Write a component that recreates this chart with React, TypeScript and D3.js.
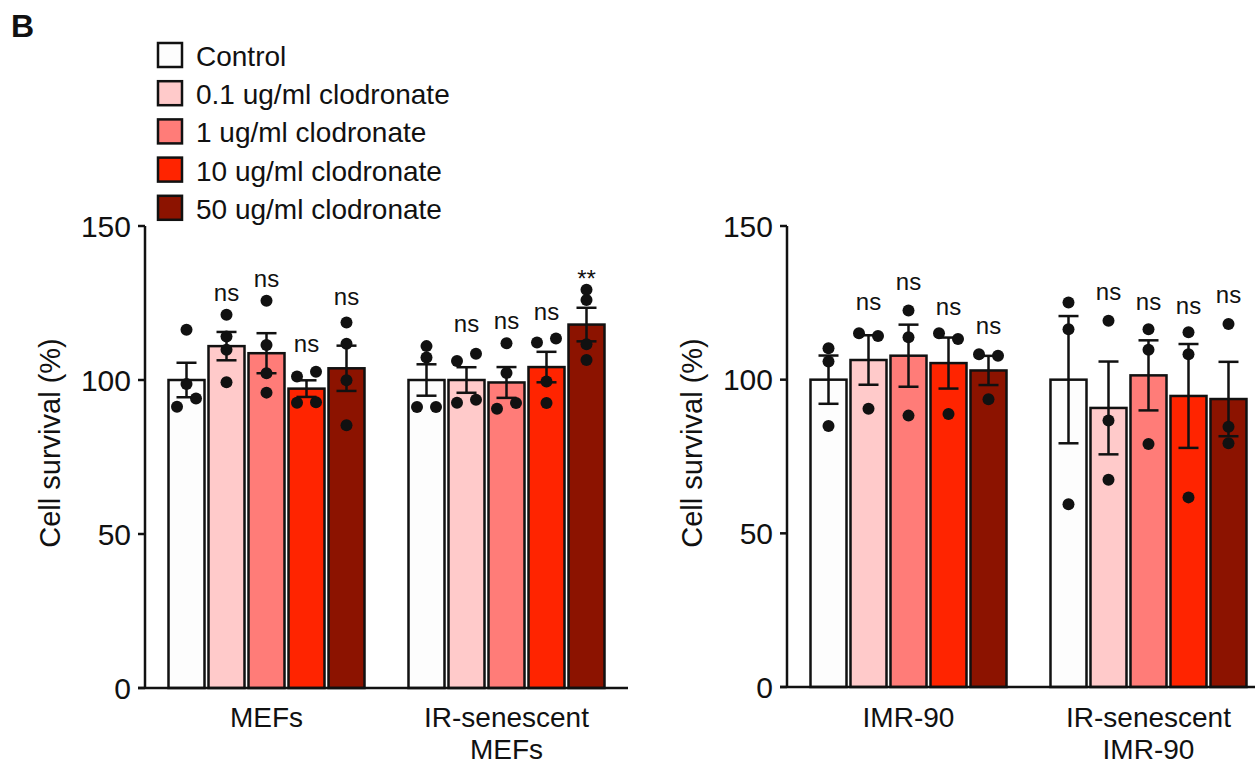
import React from "react";
import * as d3 from "d3";

// treatments (legend order) and bar fills
const treatments = [
  "Control",
  "0.1 ug/ml clodronate",
  "1 ug/ml clodronate",
  "10 ug/ml clodronate",
  "50 ug/ml clodronate",
];
const fills = ["#fdfdfd", "#ffcaca", "#ff7c78", "#ff2400", "#8c1300"];

const yTicks = [0, 50, 100, 150];

// left panel
const leftGroups = ["MEFs", "IR-senescent\nMEFs"];

const mefsMean = [100, 111, 108.7, 97.2, 103.8];
const mefsSem = [5.6, 4.6, 6.5, 2.7, 7.35];
const mefsPoints = [
  [116.3, 98.7, 91.3, 94.0],
  [121.2, 114.1, 109.8, 99.3],
  [125.7, 111.4, 102.2, 95.9],
  [101.1, 102.7, 92.6, 92.8],
  [118.7, 111.8, 99.9, 85.3],
];
const mefsSig = ["", "ns", "ns", "ns", "ns"];
const mefsSigAt = [0, 127.9, 132.2, 111.1, 126.6];

const irMefsMean = [100, 100, 99.2, 104.2, 118];
const irMefsSem = [5.1, 4.15, 5.0, 4.95, 5.45];
const irMefsPoints = [
  [111.0, 107.3, 91.2, 91.2],
  [106.2, 108.5, 92.6, 93.6],
  [111.9, 102.3, 90.7, 92.5],
  [112.2, 113.5, 99.5, 92.5],
  [129.3, 126.0, 111.6, 106.5],
];
const irMefsSig = ["", "ns", "ns", "ns", "**"];
const irMefsSigAt = [0, 117.8, 118.7, 121.6, 134.4];

// right panel
const rightGroups = ["IMR-90", "IR-senescent\nIMR-90"];

const imrMean = [100, 106.4, 107.8, 105.4, 103];
const imrSem = [7.85, 8.05, 10.1, 8.3, 4.75];
const imrPoints = [
  [110.2, 105.9, 84.9],
  [115.1, 114.2, 90.5],
  [122.5, 113.8, 88.3],
  [115.1, 113.2, 88.8],
  [108.3, 107.8, 93.6],
];
const imrSig = ["", "ns", "ns", "ns", "ns"];
const imrSigAt = [0, 124.9, 131.4, 123.3, 117.1];

const irImrMean = [100, 90.8, 101.4, 94.7, 93.7];
const irImrSem = [20.7, 15.1, 11.4, 16.9, 12.1];
const irImrPoints = [
  [125.1, 116.4, 59.5],
  [119.2, 86.7, 67.4],
  [116.4, 109.7, 79.1],
  [115.4, 108.3, 61.7],
  [118.1, 84.7, 79.3],
];
const irImrSig = ["", "ns", "ns", "ns", "ns"];
const irImrSigAt = [0, 127.9, 124.9, 123.4, 127.2];

type Series = {
  mean: number[];
  sem: number[];
  points: number[][];
  sig: string[];
  sigAt: number[];
};

const leftSeries: Series[] = [
  { mean: mefsMean, sem: mefsSem, points: mefsPoints, sig: mefsSig, sigAt: mefsSigAt },
  { mean: irMefsMean, sem: irMefsSem, points: irMefsPoints, sig: irMefsSig, sigAt: irMefsSigAt },
];
const rightSeries: Series[] = [
  { mean: imrMean, sem: imrSem, points: imrPoints, sig: imrSig, sigAt: imrSigAt },
  { mean: irImrMean, sem: irImrSem, points: irImrPoints, sig: irImrSig, sigAt: irImrSigAt },
];

const FONT = "'Liberation Sans', Arial, Helvetica, sans-serif";
const INK = "#111";

// points closer than `near` px vertically are set side by side, in data order
function spread(values: number[], y: (v: number) => number, near = 9.5, dx = 9.5) {
  const order = d3.range(values.length).sort((a, b) => values[b] - values[a]);
  const clusters: number[][] = [];
  order.forEach((i, k) => {
    const prev = k > 0 ? order[k - 1] : -1;
    if (prev >= 0 && Math.abs(y(values[i]) - y(values[prev])) < near) {
      clusters[clusters.length - 1].push(i);
    } else {
      clusters.push([i]);
    }
  });
  const offsets = new Array(values.length).fill(0);
  clusters.forEach((c) => {
    const members = [...c].sort((a, b) => a - b);
    members.forEach((idx, k) => {
      offsets[idx] = (k - (members.length - 1) / 2) * 2 * dx;
    });
  });
  return offsets;
}

function Panel({ axisX, yBottom, yTop, groups, series }: {
  axisX: number;
  yBottom: number;
  yTop: number;
  groups: string[];
  series: Series[];
}) {
  const width = 483;
  const y = d3.scaleLinear().domain([0, 150]).range([yBottom, yTop]);
  const gx = d3
    .scaleBand<string>()
    .domain(groups)
    .range([axisX, axisX + width])
    .paddingInner(1 / 6)
    .paddingOuter(0.0896);
  const bx = d3
    .scaleBand<string>()
    .domain(treatments)
    .range([0, gx.bandwidth()])
    .paddingInner(0.1)
    .paddingOuter(0.05);
  const bw = bx.bandwidth();

  return (
    <g>
      {groups.map((g, gi) => {
        const s = series[gi];
        const x0 = gx(g)!;
        return (
          <g key={g}>
            {treatments.map((t, ti) => (
              <rect
                key={t}
                x={x0 + bx(t)!}
                y={y(s.mean[ti])}
                width={bw}
                height={y(0) - y(s.mean[ti])}
                fill={fills[ti]}
                stroke={INK}
                strokeWidth={2.5}
              />
            ))}
            {treatments.map((t, ti) => {
              const cx = x0 + bx(t)! + bw / 2;
              const hi = y(s.mean[ti] + s.sem[ti]);
              const lo = y(s.mean[ti] - s.sem[ti]);
              return (
                <g key={t} stroke={INK} strokeWidth={2.5}>
                  <line x1={cx} x2={cx} y1={hi} y2={lo} />
                  <line x1={cx - 10} x2={cx + 10} y1={hi} y2={hi} />
                  <line x1={cx - 10} x2={cx + 10} y1={lo} y2={lo} />
                </g>
              );
            })}
            {treatments.map((t, ti) => {
              const cx = x0 + bx(t)! + bw / 2;
              const pts = s.points[ti];
              const off = spread(pts, y);
              return (
                <g key={t}>
                  {pts.map((v, k) => (
                    <circle key={k} cx={cx + off[k]} cy={y(v)} r={6} fill={INK} />
                  ))}
                </g>
              );
            })}
            {treatments.map((t, ti) =>
              s.sig[ti] ? (
                <text
                  key={t}
                  x={x0 + bx(t)! + bw / 2}
                  y={y(s.sigAt[ti]) + (s.sig[ti] === "**" ? 13 : 6.5)}
                  textAnchor="middle"
                  fontSize={24}
                  fill={INK}
                >
                  {s.sig[ti]}
                </text>
              ) : null
            )}
            {g.split("\n").map((line, li) => (
              <text
                key={li}
                x={x0 + gx.bandwidth() / 2}
                y={727 + li * 32}
                textAnchor="middle"
                fontSize={28}
                fill={INK}
              >
                {line}
              </text>
            ))}
          </g>
        );
      })}

      {/* axes */}
      <line x1={axisX} x2={axisX} y1={y(150)} y2={y(0)} stroke={INK} strokeWidth={2.5} />
      <line x1={axisX - 7} x2={axisX + width} y1={y(0)} y2={y(0)} stroke={INK} strokeWidth={2.5} />
      {yTicks.map((v) => (
        <g key={v}>
          <line x1={axisX - 7} x2={axisX} y1={y(v)} y2={y(v)} stroke={INK} strokeWidth={2.5} />
          <text x={axisX - 14} y={y(v) + 10.5} textAnchor="end" fontSize={30} fill={INK}>
            {v}
          </text>
        </g>
      ))}
      <text
        transform={`translate(${axisX - 85},443) rotate(-90)`}
        textAnchor="middle"
        fontSize={29}
        fill={INK}
      >
        Cell survival (%)
      </text>
    </g>
  );
}

export default function App() {
  return (
    <svg
      width={1255}
      height={766}
      viewBox="0 0 1255 766"
      style={{ position: "absolute", left: 0, top: 0, background: "#fff", fontFamily: FONT }}
    >
      <text x={11} y={37} fontSize={32} fontWeight="bold" fill={INK}>
        B
      </text>

      {/* legend */}
      {treatments.map((t, i) => (
        <g key={t} transform={`translate(158, ${43 + i * 38.2})`}>
          <rect width={24} height={24} fill={fills[i]} stroke={INK} strokeWidth={2.5} />
          <text x={38} y={23} fontSize={28} fill={INK}>
            {t}
          </text>
        </g>
      ))}

      <Panel axisX={145} yBottom={688} yTop={226} groups={leftGroups} series={leftSeries} />
      <Panel axisX={787} yBottom={687} yTop={226} groups={rightGroups} series={rightSeries} />
    </svg>
  );
}
